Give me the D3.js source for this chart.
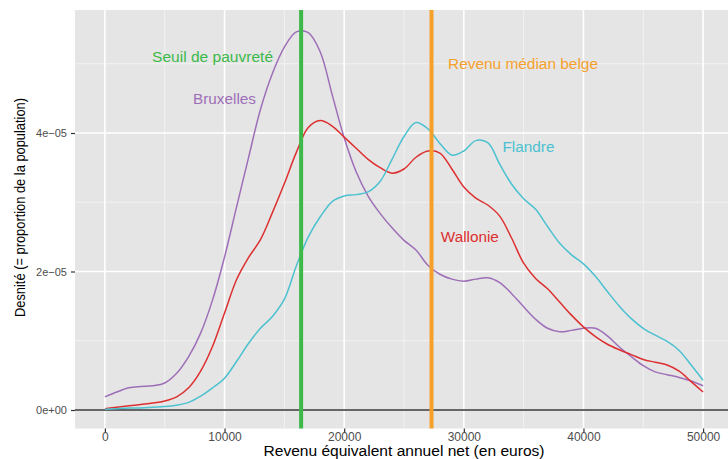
<!DOCTYPE html>
<html>
<head>
<meta charset="utf-8">
<script src="https://cdn.jsdelivr.net/npm/d3@7"></script>
<style>
  html, body { margin: 0; padding: 0; background: #fff; overflow: hidden; }
  text { font-family: "Liberation Sans", Arial, sans-serif; }
</style>
</head>
<body>
<div id="wrapper"></div>
<script>
// revenu (euros), un point tous les 1000
const revenus = d3.range(0, 50001, 1000);

// densités, en unités de 1e-05
const bruxelles = [0.19, 0.26, 0.32, 0.34, 0.35, 0.39, 0.53, 0.77, 1.11, 1.59, 2.21, 2.93, 3.64, 4.34, 4.86,
  5.24, 5.46, 5.45, 5.17, 4.55, 3.93, 3.44, 3.09, 2.84, 2.63, 2.45, 2.31, 2.09, 1.96, 1.89,
  1.86, 1.89, 1.91, 1.84, 1.68, 1.49, 1.31, 1.18, 1.13, 1.15, 1.18, 1.18, 1.07, 0.91, 0.77,
  0.64, 0.55, 0.51, 0.47, 0.42, 0.35];
const wallonie = [0.02, 0.04, 0.06, 0.08, 0.10, 0.13, 0.19, 0.32, 0.56, 0.92, 1.40, 1.88, 2.20, 2.46, 2.85,
  3.27, 3.72, 4.08, 4.18, 4.10, 3.94, 3.78, 3.62, 3.50, 3.42, 3.48, 3.65, 3.74, 3.71, 3.48,
  3.22, 3.06, 2.96, 2.80, 2.48, 2.12, 1.90, 1.75, 1.56, 1.37, 1.20, 1.06, 0.95, 0.87, 0.80,
  0.73, 0.69, 0.65, 0.56, 0.41, 0.26];
const flandre = [0.01, 0.02, 0.03, 0.03, 0.04, 0.05, 0.07, 0.11, 0.20, 0.32, 0.46, 0.70, 0.96, 1.18, 1.35,
  1.60, 2.08, 2.50, 2.79, 3.01, 3.09, 3.11, 3.15, 3.30, 3.62, 3.95, 4.15, 4.06, 3.85, 3.68,
  3.74, 3.89, 3.86, 3.55, 3.26, 3.05, 2.90, 2.65, 2.41, 2.24, 2.11, 1.93, 1.71, 1.50, 1.32,
  1.18, 1.08, 0.99, 0.86, 0.65, 0.43];

const seuilPauvrete = 16400;
const revenuMedian = 27300;

const xTicks = [0, 10000, 20000, 30000, 40000, 50000];
const yTicks = [0, 2, 4];
const yTickLabels = ["0e+00", "2e\u221205", "4e\u221205"];

// taille de la fenetre
const width = 728;
const height = 459;
const panel = { left: 75, right: 733, top: 10, bottom: 428.5 };

const svg = d3.select("#wrapper")
              .append("svg")
              .attr("width", width)
              .attr("height", height);

const x = d3.scaleLinear().domain([-2500, 52500]).range([panel.left, panel.right]);
const y = d3.scaleLinear().domain([-0.267, 5.776]).range([panel.bottom, panel.top]);

svg.append("rect")
   .attr("x", panel.left).attr("y", panel.top)
   .attr("width", panel.right - panel.left).attr("height", panel.bottom - panel.top)
   .attr("fill", "#e5e5e5");

// grilles mineures puis majeures
const xMinor = d3.range(5000, 50001, 10000);
const yMinor = [1, 3, 5];
svg.selectAll(".xminor").data(xMinor).enter().append("line")
   .attr("x1", d => x(d)).attr("x2", d => x(d))
   .attr("y1", panel.top).attr("y2", panel.bottom)
   .attr("stroke", "#f5f5f5").attr("stroke-width", 0.8);
svg.selectAll(".yminor").data(yMinor).enter().append("line")
   .attr("x1", panel.left).attr("x2", panel.right)
   .attr("y1", d => y(d)).attr("y2", d => y(d))
   .attr("stroke", "#f5f5f5").attr("stroke-width", 0.8);
svg.selectAll(".xmajor").data(xTicks).enter().append("line")
   .attr("x1", d => x(d)).attr("x2", d => x(d))
   .attr("y1", panel.top).attr("y2", panel.bottom)
   .attr("stroke", "#fff").attr("stroke-width", 1.6);
svg.selectAll(".ymajor").data(yTicks).enter().append("line")
   .attr("x1", panel.left).attr("x2", panel.right)
   .attr("y1", d => y(d)).attr("y2", d => y(d))
   .attr("stroke", "#fff").attr("stroke-width", 1.6);

// axes
const xAxis = svg.append("g")
   .attr("transform", "translate(0," + panel.bottom + ")")
   .call(d3.axisBottom(x).tickValues(xTicks).tickFormat(d3.format("d")).tickSize(3.5).tickPadding(0.5));
xAxis.selectAll(".tick text").style("font-size", "12px");
const yAxis = svg.append("g")
   .attr("transform", "translate(" + panel.left + ",0)")
   .call(d3.axisLeft(y).tickValues(yTicks).tickFormat((d, i) => yTickLabels[i]).tickSize(4).tickPadding(4));
yAxis.selectAll(".tick text").style("font-size", "11px");
[xAxis, yAxis].forEach(a => {
  a.select(".domain").remove();
  a.selectAll(".tick line").attr("stroke", "#333").attr("stroke-width", 1.2);
  a.selectAll(".tick text").attr("fill", "#4d4d4d")
   .style("font-family", "'Liberation Sans', Arial, sans-serif");
});

// ligne horizontale a zero
svg.append("line")
   .attr("x1", panel.left).attr("x2", panel.right)
   .attr("y1", y(0)).attr("y2", y(0))
   .attr("stroke", "#333").attr("stroke-width", 1.5);

// courbes de densité
const line = d3.line()
               .x((d, i) => x(revenus[i]))
               .y(d => y(d))
               .curve(d3.curveCatmullRom.alpha(0.5));

const series = [
  { name: "Bruxelles", values: bruxelles, color: "#9e6fb8" },
  { name: "Wallonie", values: wallonie, color: "#dd2f2f" },
  { name: "Flandre", values: flandre, color: "#4cc1d0" }
];
svg.selectAll(".courbe").data(series).enter().append("path")
   .attr("d", d => line(d.values))
   .attr("fill", "none")
   .attr("stroke", d => d.color)
   .attr("stroke-width", 1.5);

// lignes verticales
svg.append("line")
   .attr("x1", x(seuilPauvrete)).attr("x2", x(seuilPauvrete))
   .attr("y1", panel.top).attr("y2", panel.bottom)
   .attr("stroke", "#3db94a").attr("stroke-width", 4);
svg.append("line")
   .attr("x1", x(revenuMedian)).attr("x2", x(revenuMedian))
   .attr("y1", panel.top).attr("y2", panel.bottom)
   .attr("stroke", "#f6a02c").attr("stroke-width", 4);

// annotations (largeur mesurée sur l'image)
const labels = [
  { text: "Seuil de pauvreté", v: 9000, d: 5.03, w: 121, color: "#3db94a" },
  { text: "Bruxelles", v: 10000, d: 4.42, w: 63, color: "#9e6fb8" },
  { text: "Revenu médian belge", v: 34950, d: 4.93, w: 150, color: "#f6a02c" },
  { text: "Flandre", v: 35400, d: 3.72, w: 52, color: "#4cc1d0" },
  { text: "Wallonie", v: 30500, d: 2.43, w: 58, color: "#dd2f2f" }
];
svg.selectAll(".annot").data(labels).enter().append("text")
   .attr("x", d => x(d.v))
   .attr("y", d => y(d.d))
   .attr("text-anchor", "middle")
   .attr("fill", d => d.color)
   .attr("textLength", d => d.w)
   .attr("lengthAdjust", "spacingAndGlyphs")
   .style("font-size", "14px")
   .text(d => d.text);

// titres des axes
svg.append("text")
   .attr("x", (panel.left + panel.right) / 2)
   .attr("y", 456)
   .attr("text-anchor", "middle")
   .attr("textLength", 281)
   .attr("lengthAdjust", "spacingAndGlyphs")
   .style("font-size", "14px")
   .attr("fill", "#000")
   .text("Revenu équivalent annuel net (en euros)");
svg.append("text")
   .attr("transform", "translate(24.5,207.5) rotate(-90)")
   .attr("text-anchor", "middle")
   .attr("textLength", 219)
   .attr("lengthAdjust", "spacingAndGlyphs")
   .style("font-size", "14px")
   .attr("fill", "#000")
   .text("Desnité (= proportion de la population)");
</script>
</body>
</html>
